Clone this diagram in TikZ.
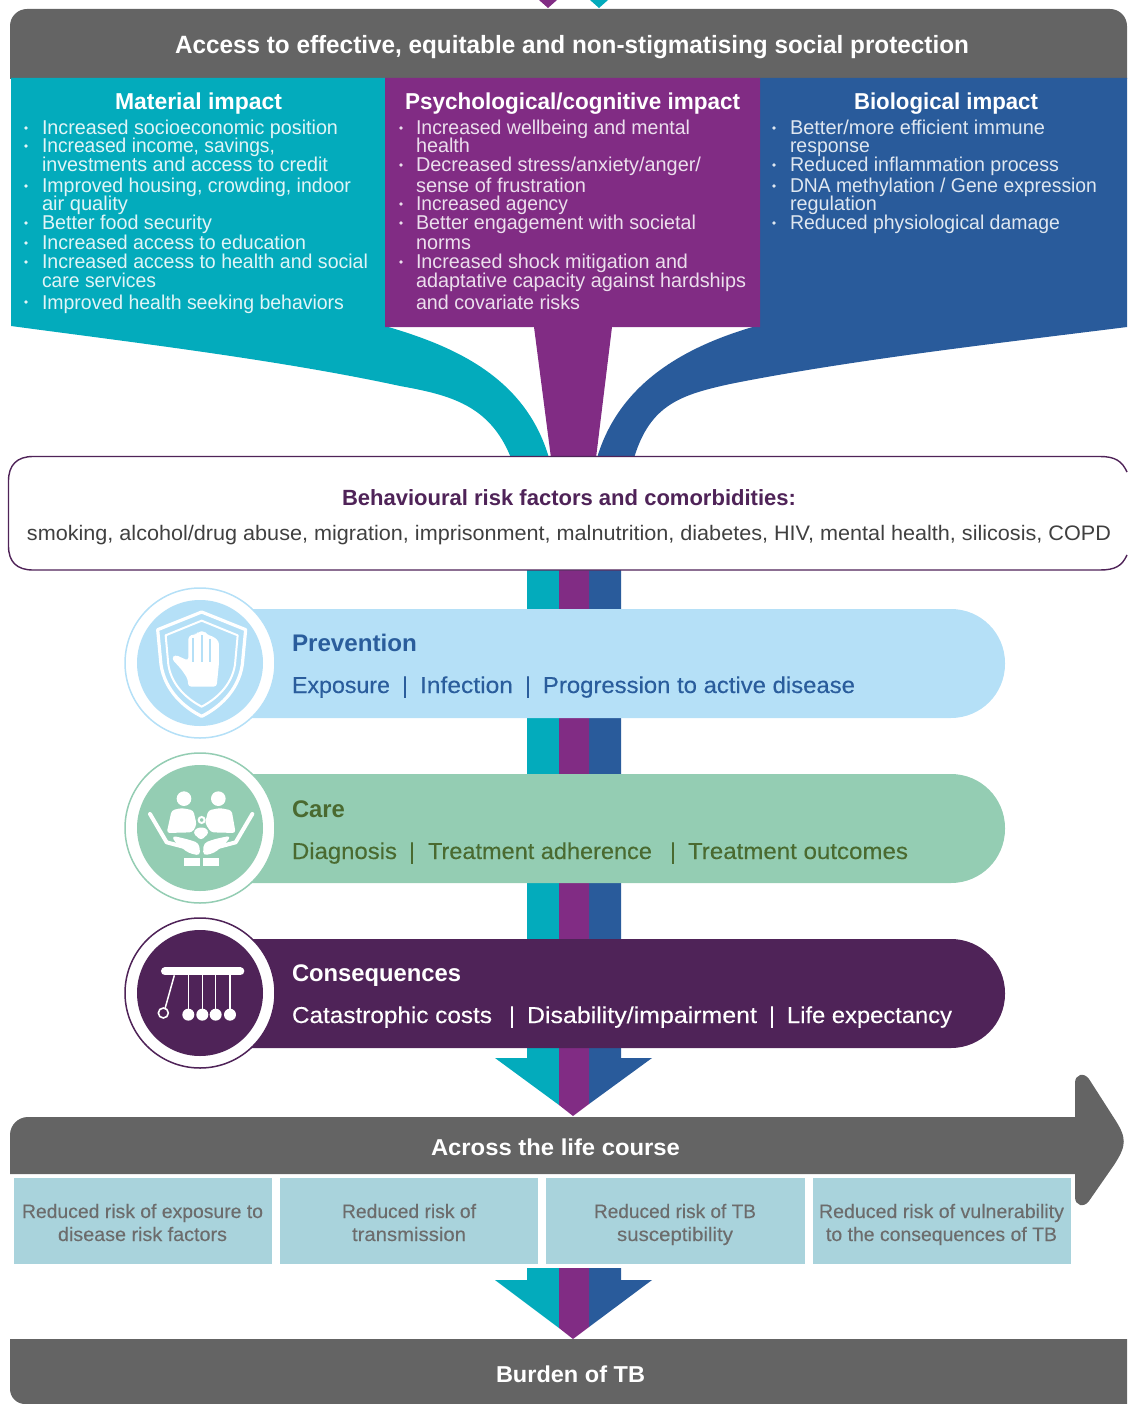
\documentclass[tikz,border=0pt]{standalone}
\usepackage{fontspec}
\usepackage{graphicx}
\setmainfont{Liberation Sans}
\newfontfamily\medfont[FakeBold=0.25]{Liberation Sans}
\definecolor{cteal}{HTML}{03ABBC}
\definecolor{cpurple}{HTML}{812C84}
\definecolor{cblue}{HTML}{295B9B}
\definecolor{cgray}{HTML}{646464}
\definecolor{cdark}{HTML}{4F2358}
\definecolor{cbox}{HTML}{A9D3DC}
\definecolor{cpale}{HTML}{B5E0F7}
\definecolor{cgreen}{HTML}{94CDB3}
\definecolor{cprev}{HTML}{2A5D9C}
\definecolor{ccare}{HTML}{4A6A30}
\definecolor{cboxtxt}{HTML}{6C6C6C}
\newsavebox\fitbox
\newcommand{\fittext}[2]{\sbox\fitbox{#2}\pgfmathsetmacro\fitr{(#1)/\wd\fitbox}\scalebox{\fitr}[1]{\usebox\fitbox}}
\newcommand{\fitline}[6]{\node[lab,#5] (#1) at (#2,#4) {\fittext{#3-#2}{#6}};}
\tikzset{
  x=1pt,y=-1pt,
  lab/.style={inner sep=0pt,outer sep=0pt,anchor=base west},
  tbody/.style={font=\fontsize{20}{20}\selectfont,text=white!88!cteal},
  tbodyp/.style={font=\fontsize{20}{20}\selectfont,text=white!85!cpurple},
  tbodyb/.style={font=\fontsize{20}{20}\selectfont,text=white!85!cblue},
  ttitle/.style={font=\fontsize{23}{23}\selectfont\bfseries,text=white},
  thead/.style={font=\fontsize{25}{25}\selectfont\bfseries,text=white},
  tname/.style={font=\fontsize{24}{24}\selectfont\bfseries},
  tsub/.style={font=\medfont\fontsize{23}{23}\selectfont},
  tbox/.style={font=\medfont\fontsize{19.5}{20}\selectfont,text=cboxtxt},
  ring/.style={draw=#1,line width=1.5pt,fill=white},
  resultbox/.style={fill=cbox},
  iconline/.style={white,line width=#1},
}
\begin{document}
\begin{tikzpicture}
\useasboundingbox (0,0) rectangle (1127,1404);
% top tips
\fill[cpurple] (539,0) -- (548,8) -- (557,0) -- cycle;
\fill[cteal] (590,0) -- (599,8) -- (608,0) -- cycle;
% header
\fill[cgray] (10,79) -- (10,26) [rounded corners=17pt] -- (10,9) -- (1127,9) [sharp corners] -- (1127,79) -- cycle;
% tails
\fill[cteal] (11,78) -- (385,78) -- (385,326)
  .. controls (450,345) and (525,375) .. (549,458) -- (511,458)
  .. controls (490,405) and (450,395) .. (400,386)
  .. controls (280,360) and (130,342) .. (11,326) -- cycle;
\fill[cblue] (760,78) -- (1127,78) -- (1127,327)
  .. controls (1000,343) and (850,360) .. (730,384)
  .. controls (680,395) and (650,405) .. (634,458) -- (597,458)
  .. controls (620,380) and (690,345) .. (756,326) -- cycle;
\fill[cpurple] (385,78) -- (760,78) -- (760,327) -- (612,327) -- (596,458) -- (551,458) -- (534,327) -- (385,327) -- cycle;
% header text
\fitline{head}{175}{969}{54}{thead}{Access to effective, equitable and non-stigmatising social protection}
% material
\fitline{mt}{115}{282}{110}{ttitle}{Material impact}
\foreach \yy in {128,146,186,223,243,262,302} \fill[white!88!cteal] (26,\yy) circle (1.9);
\fitline{m1}{42}{338}{135}{tbody}{Increased socioeconomic position}
\fitline{m2}{42}{275}{153}{tbody}{Increased income, savings,}
\fitline{m3}{42}{328}{172}{tbody}{investments and access to credit}
\fitline{m4}{42}{351}{193}{tbody}{Improved housing, crowding, indoor}
\fitline{m5}{42}{128}{211}{tbody}{air quality}
\fitline{m6}{42}{212}{230}{tbody}{Better food security}
\fitline{m7}{42}{306}{250}{tbody}{Increased access to education}
\fitline{m8}{42}{368}{269}{tbody}{Increased access to health and social}
\fitline{m9}{42}{156}{288}{tbody}{care services}
\fitline{m10}{42}{344}{309}{tbody}{Improved health seeking behaviors}
% psychological
\fitline{pt}{405}{740}{110}{ttitle}{Psychological/cognitive impact}
\foreach \yy in {128,165,204,223,262} \fill[white!85!cpurple] (401,\yy) circle (1.9);
\fitline{p1}{416}{690}{135}{tbodyp}{Increased wellbeing and mental}
\fitline{p2}{416}{470}{153}{tbodyp}{health}
\fitline{p3}{416}{701}{172}{tbodyp}{Decreased stress/anxiety/anger/}
\fitline{p4}{416}{586}{193}{tbodyp}{sense of frustration}
\fitline{p5}{416}{568}{211}{tbodyp}{Increased agency}
\fitline{p6}{416}{696}{230}{tbodyp}{Better engagement with societal}
\fitline{p7}{416}{471}{250}{tbodyp}{norms}
\fitline{p8}{416}{688}{269}{tbodyp}{Increased shock mitigation and}
\fitline{p9}{416}{746}{288}{tbodyp}{adaptative capacity against hardships}
\fitline{p10}{416}{580}{309}{tbodyp}{and covariate risks}
% biological
\fitline{bt}{854}{1038}{110}{ttitle}{Biological impact}
\foreach \yy in {128,165,186,223} \fill[white!85!cblue] (774,\yy) circle (1.9);
\fitline{b1}{790}{1045}{135}{tbodyb}{Better/more efficient immune}
\fitline{b2}{790}{870}{153}{tbodyb}{response}
\fitline{b3}{790}{1059}{172}{tbodyb}{Reduced inflammation process}
\fitline{b4}{790}{1097}{193}{tbodyb}{DNA methylation / Gene expression}
\fitline{b5}{790}{877}{211}{tbodyb}{regulation}
\fitline{b6}{790}{1060}{230}{tbodyb}{Reduced physiological damage}
% vertical bands and first arrow
\fill[cteal] (527,560) -- (559,560) -- (559,1105) -- (495,1058) -- (527,1058) -- cycle;
\fill[cblue] (589,560) -- (621,560) -- (621,1058) -- (652,1058) -- (589,1104) -- cycle;
\fill[cpurple] (559,560) -- (589,560) -- (589,1104) -- (573,1116) -- (559,1105) -- cycle;
% behaviour box
\draw[cdark,fill=white,line width=1.4pt] (1127,472) .. controls (1122,461) and (1115,456.5) .. (1100,456.5) -- (33,456.5) .. controls (17,456.5) and (8.5,465) .. (8.5,481) -- (8.5,546) .. controls (8.5,562) and (17,570) .. (33,570) -- (1100,570) .. controls (1115,570) and (1122,566) .. (1127,555);
\fitline{beh}{342}{796}{505}{font=\fontsize{22}{22}\selectfont\bfseries,text=cdark}{Behavioural risk factors and comorbidities:}
\fitline{beh2}{27}{1111}{540}{font=\fontsize{21}{21}\selectfont,text=black!75}{smoking, alcohol/drug abuse, migration, imprisonment, malnutrition, diabetes, HIV, mental health, silicosis, COPD}
% pills
\fill[cpale] (200,609) [rounded corners=54pt] -- (1005,609) -- (1005,718) [sharp corners] -- (200,718) -- cycle;
\fill[cgreen] (200,774) [rounded corners=54pt] -- (1005,774) -- (1005,883) [sharp corners] -- (200,883) -- cycle;
\fill[cdark] (200,939) [rounded corners=54pt] -- (1005,939) -- (1005,1048) [sharp corners] -- (200,1048) -- cycle;
% prevention icon
\draw[ring=cpale] (200,663) circle (75);
\fill[cpale] (200,663) circle (63);
\begin{scope}[shift={(125,588)},x=0.3333pt,y=-0.3333pt]
\draw[iconline=3.2pt,line join=round] (230,72) -- (362,125) -- (352,230) .. controls (340,310) and (280,360) .. (230,385) .. controls (180,360) and (120,310) .. (108,230) -- (98,125) -- cycle;
\draw[iconline=2pt,line join=round] (230,98) -- (338,142) -- (330,230) .. controls (320,295) and (270,335) .. (230,356) .. controls (190,335) and (140,295) .. (130,230) -- (122,142) -- cycle;
\fill[white,rounded corners=3pt] (190,296) -- (188,272) -- (170,245) -- (140,212) -- (150,200) -- (190,218) -- (190,145) -- (208,138) -- (216,140) -- (220,130) -- (240,130) -- (245,140) -- (264,145) -- (282,160) -- (282,225) -- (275,296) -- cycle;
\draw[cpale,line width=2pt] (205,150) -- (205,222) (230,142) -- (230,222) (256,152) -- (256,222);
\end{scope}
% care icon
\draw[ring=cgreen] (200,828) circle (75);
\fill[cgreen] (200,828) circle (63);
\begin{scope}[shift={(125,753)},x=0.3333pt,y=-0.3333pt]
\fill[white] (177,137) circle (22);
\fill[white] (280,137) circle (22);
\fill[white,rounded corners=3pt] (125,240) -- (140,172) -- (170,165) -- (205,172) -- (215,215) -- (202,238) -- cycle;
\fill[white,rounded corners=3pt] (332,240) -- (320,172) -- (285,165) -- (250,172) -- (240,210) -- (258,238) -- cycle;
\draw[cgreen,line width=1.5pt] (126,243) -- (200,243) (258,243) -- (332,243);
\draw[white,line width=2pt] (230,201) circle (9);
\fill[white,rounded corners=3pt] (228,262) -- (204,240) -- (215,224) -- (243,224) -- (252,240) -- cycle;
\draw[white,line width=4pt,line cap=round,line join=round] (75,183) -- (125,268) -- (190,285);
\draw[white,line width=4pt,line cap=round,line join=round] (382,183) -- (332,268) -- (268,285);
\fill[white,rounded corners=4pt] (140,248) -- (185,258) -- (222,270) -- (226,308) -- (190,300) -- (150,268) -- cycle;
\fill[white,rounded corners=4pt] (318,248) -- (270,258) -- (236,270) -- (234,308) -- (268,300) -- (305,268) -- cycle;
\fill[white] (177,315) rectangle (225,338);
\fill[white] (235,315) rectangle (282,338);
\end{scope}
% consequences icon
\draw[ring=cdark] (200,993) circle (75);
\fill[cdark] (200,993) circle (63);
\begin{scope}[shift={(125,918)},x=0.3333pt,y=-0.3333pt]
\draw[white,line width=8pt,line cap=round] (120,160) -- (346,160);
\draw[white,line width=1.5pt] (148,172) -- (120,272);
\draw[white,line width=1.6pt] (115,285) circle (15);
\foreach \xx in {190,232,272,315} {
  \draw[white,line width=1.5pt] (\xx,170) -- (\xx,290);
  \fill[white] (\xx,290) circle (18);
}
\end{scope}
% pill text
\fitline{prev}{292}{417}{651}{tname,text=cprev}{Prevention}
\fitline{pv1}{292}{390}{693}{tsub,text=cprev}{Exposure}
\node[lab,tsub,text=cprev,anchor=base] (pvs1) at (405,693) {|};
\fitline{pv2}{420}{513}{693}{tsub,text=cprev}{Infection}
\node[lab,tsub,text=cprev,anchor=base] (pvs2) at (528,693) {|};
\fitline{pv3}{543}{855}{693}{tsub,text=cprev}{Progression to active disease}
\fitline{care}{292}{345}{817}{tname,text=ccare}{Care}
\fitline{cr1}{292}{397}{859}{tsub,text=ccare}{Diagnosis}
\node[lab,tsub,text=ccare,anchor=base] (crs1) at (412,859) {|};
\fitline{cr2}{428}{652}{859}{tsub,text=ccare}{Treatment adherence}
\node[lab,tsub,text=ccare,anchor=base] (crs2) at (673,859) {|};
\fitline{cr3}{688}{908}{859}{tsub,text=ccare}{Treatment outcomes}
\fitline{cons}{292}{461}{981}{tname,text=white}{Consequences}
\fitline{cn1}{292}{492}{1023}{tsub,text=white}{Catastrophic costs}
\node[lab,tsub,text=white,anchor=base] (cns1) at (512,1023) {|};
\fitline{cn2}{527}{757}{1023}{tsub,text=white}{Disability/impairment}
\node[lab,tsub,text=white,anchor=base] (cns2) at (772,1023) {|};
\fitline{cn3}{787}{952}{1023}{tsub,text=white}{Life expectancy}
% life-course arrow
\fill[cgray] (10,1174) -- (10,1135) [rounded corners=18pt] -- (10,1117) [sharp corners] -- (1075,1117) -- (1075,1083) .. controls (1075,1074) and (1084,1072) .. (1089,1079) -- (1114,1118) .. controls (1127,1138) and (1127,1145) .. (1114,1165) -- (1089,1201) .. controls (1084,1208) and (1075,1206) .. (1075,1197) -- (1075,1174) -- cycle;
\fitline{life}{431}{680}{1155}{ttitle}{Across the life course}
% result boxes
\fill[resultbox] (14,1178) rectangle (272,1264);
\fill[resultbox] (280,1178) rectangle (538,1264);
\fill[resultbox] (546,1178) rectangle (805,1264);
\fill[resultbox] (813,1178) rectangle (1071,1264);
\fitline{r1a}{22}{263}{1218}{tbox}{Reduced risk of exposure to}
\fitline{r1b}{58}{227}{1241}{tbox}{disease risk factors}
\fitline{r2a}{342}{476}{1218}{tbox}{Reduced risk of}
\fitline{r2b}{352}{466}{1241}{tbox}{transmission}
\fitline{r3a}{594}{756}{1218}{tbox}{Reduced risk of TB}
\fitline{r3b}{617}{733}{1241}{tbox}{susceptibility}
\fitline{r4a}{819}{1064}{1218}{tbox}{Reduced risk of vulnerability}
\fitline{r4b}{826}{1057}{1241}{tbox}{to the consequences of TB}
% second arrow
\fill[cteal] (527,1268) -- (559,1268) -- (559,1328) -- (495,1280) -- (527,1280) -- cycle;
\fill[cblue] (589,1268) -- (621,1268) -- (621,1280) -- (652,1280) -- (589,1327) -- cycle;
\fill[cpurple] (559,1268) -- (589,1268) -- (589,1327) -- (573,1339) -- (559,1328) -- cycle;
% burden bar
\fill[cgray] (1127,1339) -- (10,1339) -- (10,1380) [rounded corners=15pt] -- (10,1404) [sharp corners] -- (1127,1404) -- cycle;
\fitline{burden}{496}{645}{1382}{ttitle}{Burden of TB}
\end{tikzpicture}
\end{document}
